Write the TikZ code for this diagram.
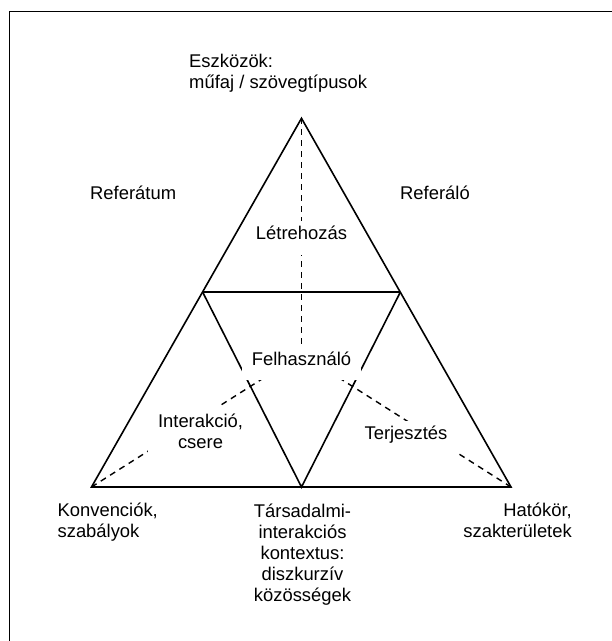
\documentclass[tikz,border=0pt]{standalone}
\usepackage{fontspec}
\setmainfont{Liberation Sans}
\begin{document}
\begin{tikzpicture}[x=1pt,y=-1pt,
    lbl/.style={inner sep=0pt,font=\fontsize{18.4}{21}\selectfont},
    field/.style={lbl,fill=white,inner xsep=10pt,inner ysep=5pt,text height=14pt,text depth=10pt},
    fieldtwo/.style={lbl,fill=white,inner xsep=10pt,inner ysep=7.5pt,align=center},
    edge/.style={line width=1.6pt,line join=miter},
    guide/.style={line width=1.4pt,dash pattern=on 6pt off 5pt}]
  \useasboundingbox (0,0) rectangle (612,641);
  % Frame
  \draw [line width=1.8pt] (9.5,660) |- (630,11.5);

  % Corners of the triangle
  \coordinate (apex) at (301.5,118.3);
  \coordinate (bl) at (91.5,487);
  \coordinate (br) at (511,487);
  \coordinate (ml) at (202.6,292);
  \coordinate (mr) at (400.4,292);
  \coordinate (mb) at (301.5,487);
  \coordinate (c) at (301.5,354);

  % Draw triangle
  \draw [edge] (apex) -- (br) -- (bl) -- cycle;
  \draw [edge] (ml) -- (mr);
  \draw [edge] (ml) -- (mb) -- (mr);

  % Dashed guides to the centre
  \draw [guide] (apex) -- (c);
  \draw [guide] (bl) -- (c);
  \draw [guide] (br) -- (c);

  % Fields inside
  \node [field,anchor=base] at (301.5,239.6) (letre) {Létrehozás};
  \node [field,anchor=base] at (301.5,365) (felh) {Felhasználó};
  \node [field,anchor=base] at (406,439.6) (terj) {Terjesztés};
  \node [fieldtwo] at (200.5,431) (inter) {Interakció,\\csere};

  % Labels outside (base = last line)
  \node [lbl,anchor=base west,align=left] at (189,88.3) (eszk) {Eszközök:\\műfaj / szövegtípusok};
  \node [lbl,anchor=base west] at (90,199.3) (refer) {Referátum};
  \node [lbl,anchor=base west] at (400,199.3) (refalo) {Referáló};
  \node [lbl,anchor=base west,align=left] at (57.4,537.3) (konv) {Konvenciók,\\szabályok};
  \node [lbl,anchor=base,align=center] at (302.5,601.6) (tars) {Társadalmi-\\interakciós\\kontextus:\\diszkurzív\\közösségek};
  \node [lbl,anchor=base east,align=right] at (572,537.3) (hat) {Hatókör,\\szakterületek};
\end{tikzpicture}
\end{document}
